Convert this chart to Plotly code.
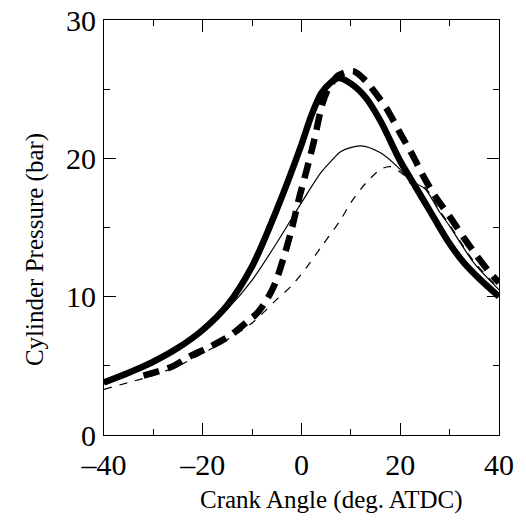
import plotly.graph_objects as go

# Thick solid curve
x_thick_solid = [-40, -35, -30, -25, -20, -15, -10, -5, 0, 2, 4, 6, 7.5, 10, 13, 16, 20, 23, 26, 29.5, 33, 36, 40]
y_thick_solid = [3.8, 4.5, 5.3, 6.3, 7.6, 9.4, 12.2, 16.3, 21.0, 23.1, 24.7, 25.5, 25.8, 25.4, 24.4, 22.7, 19.8, 18.0, 16.2, 14.1, 12.4, 11.3, 10.0]

# Thick dashed curve
x_thick_dash = [-32, -26.5, -22.5, -18.4, -14.4, -11, -9, -7, -5.3, -3.3, -1.9, -0.5, 1, 2.5, 4.2, 5.5, 7.5, 10.5, 13, 14.6, 17.4, 20, 22.7, 24.7, 27, 30.2, 33, 35.6, 38, 40]
y_thick_dash = [4.3, 4.9, 5.7, 6.4, 7.2, 8.2, 8.8, 9.8, 11.0, 13.2, 15.0, 17.1, 19.1, 21.2, 23.9, 25.1, 26.0, 26.3, 25.6, 24.9, 23.5, 21.8, 20.1, 18.7, 17.3, 15.7, 14.2, 12.9, 11.8, 11.0]

# Thin solid curve
x_thin_solid = [-40, -30, -20, -15, -10, -5, 0, 4, 6, 8, 12, 16, 19.4, 22, 25, 28, 30, 35, 40]
y_thin_solid = [3.7, 5.1, 7.4, 9.1, 11.2, 13.9, 16.8, 19.0, 19.8, 20.5, 20.9, 20.4, 19.4, 18.4, 17.8, 16.1, 15.1, 12.4, 10.5]

# Thin dashed curve
x_thin_dash = [-40, -35, -30, -25, -20, -15, -10, -5, -2, 1, 4, 8, 10, 13, 16, 18, 20.7, 22, 25, 28, 30, 35, 40]
y_thin_dash = [3.3, 3.8, 4.3, 5.0, 5.9, 6.9, 8.1, 9.8, 10.8, 12.1, 13.6, 15.6, 16.8, 18.2, 19.2, 19.4, 18.8, 18.2, 17.9, 16.2, 15.2, 12.5, 10.6]

x_tick_vals = [-40, -20, 0, 20, 40]
x_tick_text = ["\u201340", "\u201320", "0", "20", "40"]
y_tick_vals = [0, 10, 20, 30]
y_tick_text = ["0", "10", "20", "30"]

x_title = "Crank Angle (deg. ATDC)"
y_title = "Cylinder Pressure (bar)"

fig = go.Figure()
fig.add_trace(go.Scatter(x=x_thin_dash, y=y_thin_dash, mode="lines",
                         line=dict(color="black", width=1.2, dash="8px,8px", shape="spline", smoothing=0.8)))
fig.add_trace(go.Scatter(x=x_thin_solid, y=y_thin_solid, mode="lines",
                         line=dict(color="black", width=1.2, shape="spline", smoothing=0.8)))
fig.add_trace(go.Scatter(x=x_thick_dash, y=y_thick_dash, mode="lines",
                         line=dict(color="black", width=6.5, dash="16px,9px", shape="spline", smoothing=0.8)))
fig.add_trace(go.Scatter(x=x_thick_solid, y=y_thick_solid, mode="lines",
                         line=dict(color="black", width=6.5, shape="spline", smoothing=0.8)))

axis_common = dict(
    showgrid=False, zeroline=False, showline=True, linecolor="black", linewidth=1.2,
    mirror="ticks", ticks="inside", ticklen=12, tickwidth=1.2, tickcolor="black",
    tickfont=dict(family="Liberation Serif", size=30, color="black"),
    automargin=False,
)

fig.update_xaxes(
    range=[-40, 40], tickvals=x_tick_vals, ticktext=x_tick_text,
    minor=dict(ticks="inside", ticklen=6, tickwidth=1.2, tickcolor="black", dtick=10, tick0=0),
    ticklabelstandoff=3,
    **axis_common,
)
fig.update_yaxes(
    range=[0, 30], tickvals=y_tick_vals, ticktext=y_tick_text,
    minor=dict(ticks="inside", ticklen=6, tickwidth=1.2, tickcolor="black", dtick=5, tick0=0),
    ticklabelstandoff=1,
    **axis_common,
)

title_font = dict(family="Liberation Serif", size=25, color="black")
fig.add_annotation(text=x_title, xref="paper", yref="paper", x=0.575, y=-0.157,
                   xanchor="center", yanchor="middle", showarrow=False, font=title_font)
fig.add_annotation(text=y_title, xref="paper", yref="paper", x=-0.1747, y=0.448,
                   xanchor="center", yanchor="middle", textangle=-90, showarrow=False, font=title_font)

fig.update_layout(
    width=526, height=522,
    margin=dict(l=104, r=27, t=20, b=87),
    paper_bgcolor="white", plot_bgcolor="white",
    showlegend=False,
)

fig.write_html("out.html", config={"displayModeBar": False},
               post_script="document.body.style.margin='0';document.body.style.padding='0';")
